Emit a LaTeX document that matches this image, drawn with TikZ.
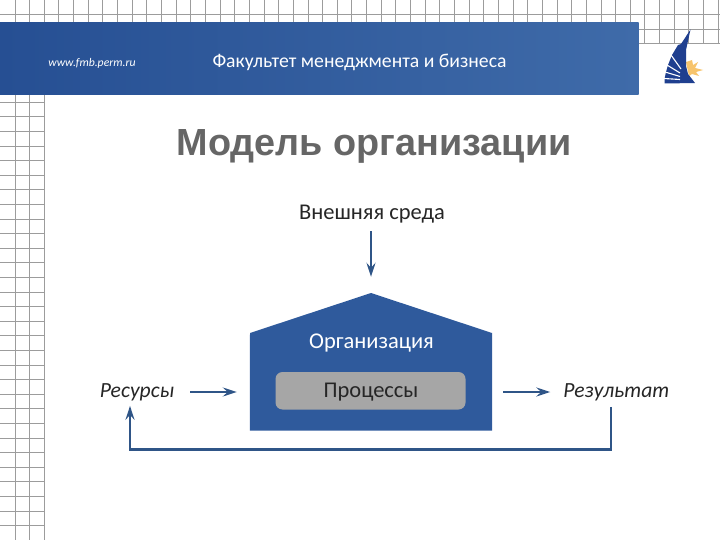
\documentclass[tikz,border=0pt]{standalone}
\usepackage{fontspec}
\setmainfont{Carlito}
\newfontfamily\titlefont{Liberation Sans}
\usetikzlibrary{arrows.meta}
\definecolor{bandL}{HTML}{264F93}
\definecolor{bandR}{HTML}{3F6BA9}
\definecolor{houseblue}{HTML}{2F5A9C}
\definecolor{gridgray}{HTML}{9C9C9C}
\definecolor{procgray}{HTML}{A6A6A6}
\definecolor{titlegray}{HTML}{666666}
\definecolor{arrowblue}{HTML}{2F5587}
\definecolor{logoblue}{HTML}{1F3F8F}
\definecolor{sun}{HTML}{F7C46C}
\tikzset{
  gridline/.style={gridgray,line width=1pt},
  label/.style={font=\fontsize{22.5}{26}\selectfont,text=black!85,inner sep=0pt},
  itlabel/.style={font=\itshape\fontsize{21.6}{26}\selectfont,text=black!85,inner sep=0pt},
  conn/.style={arrowblue,line width=2.8pt,-{Stealth[length=14pt,width=9pt,inset=5pt]}},
}
\begin{document}
\begin{tikzpicture}[x=1pt,y=-1pt]
\useasboundingbox (0,0) rectangle (720,540);
% grid
\foreach \k in {0,...,48}{\draw[gridline] ({15+14.65*\k},0) -- ({15+14.65*\k},22);}
\foreach \k in {43,...,48}{\draw[gridline] ({15+14.65*\k},22) -- ({15+14.65*\k},44);}
\draw[gridline] (0,15) -- (720,15);
\draw[gridline] (638,29.5) -- (720,29.5);
\draw[gridline] (638,44) -- (720,44);
\foreach \k in {0,1,2}{\draw[gridline] ({15+14.65*\k},95) -- ({15+14.65*\k},540);}
\foreach \k in {6,...,36}{\draw[gridline] (0,{14.7+14.6*\k}) -- (44.5,{14.7+14.6*\k});}
% band
\shade[left color=bandL,right color=bandR] (0,22.5) rectangle (638.5,95);
\node[font=\itshape\fontsize{11.7}{14}\selectfont,text=white,inner sep=0pt] (url) at (92,63) {www.fmb.perm.ru};
\node[font=\fontsize{19.7}{24}\selectfont,text=white,inner sep=0pt] (faculty) at (359.5,62) {Факультет менеджмента и бизнеса};
% logo
\fill[white] (640,45) rectangle (720,95);
\fill[sun] (695,68) -- (703,70) -- (696,72) -- (699,76) -- (692,74) -- (689,76) -- (686,62) -- (692,60) -- (693,65) -- (698,62) -- cycle;
\fill[logoblue] (690.5,29.5) -- (686,50) -- (686,66) -- (688,74) -- (695,83) -- (664.5,83.5) -- (664.5,79) -- (666,72) -- (668,65) -- (672,55) -- (678,45) -- (681,44) -- cycle;
\draw[white,line width=1.1pt] (671,55) -- (681,69) (667,65) -- (680,73) (665,72) -- (680,76.5) (664,78.5) -- (680,79.5);
% title
\node[font=\titlefont\bfseries\fontsize{37.8}{42}\selectfont,text=titlegray,inner sep=0pt] (title) at (374,146.5) {Модель организации};
% house
\node[minimum width=242pt,minimum height=137.5pt,inner sep=0pt] (house) at (371,361.75) {};
\fill[houseblue] (house.south west) -- (250,333) -- (371,293) -- (492,333) -- (house.south east) -- cycle;
\node[label,text=white] (org) at (371.5,343) {Организация};
\node[fill=procgray,rounded corners=7pt,minimum width=190pt,minimum height=37.5pt,inner sep=0pt] (proc) at (370.5,390.75) {};
\node[label] (proctext) at (371,392.5) {Процессы};
% labels
\node[label] (env) at (372,214) {Внешняя среда};
\node[itlabel] (res) at (137,392) {Ресурсы};
\node[itlabel] (out) at (616.5,392) {Результат};
% connectors
\draw[conn,shorten <=8pt,shorten >=16pt] (house.north |- env.south) -- (house.north);
\draw[conn,shorten <=16pt,shorten >=13pt] (res.east) -- (house.west |- res.east);
\draw[conn,shorten <=11pt,shorten >=13pt] (house.east |- out.west) -- (out.west);
\coordinate (turn) at (611,449.5);
\coordinate (backend) at (130,449.5);
\draw[conn,line join=miter,shorten <=6pt,shorten >=5pt] (out.south -| turn) -- (turn) -- (backend) -- (backend |- res.south);
\end{tikzpicture}
\end{document}
